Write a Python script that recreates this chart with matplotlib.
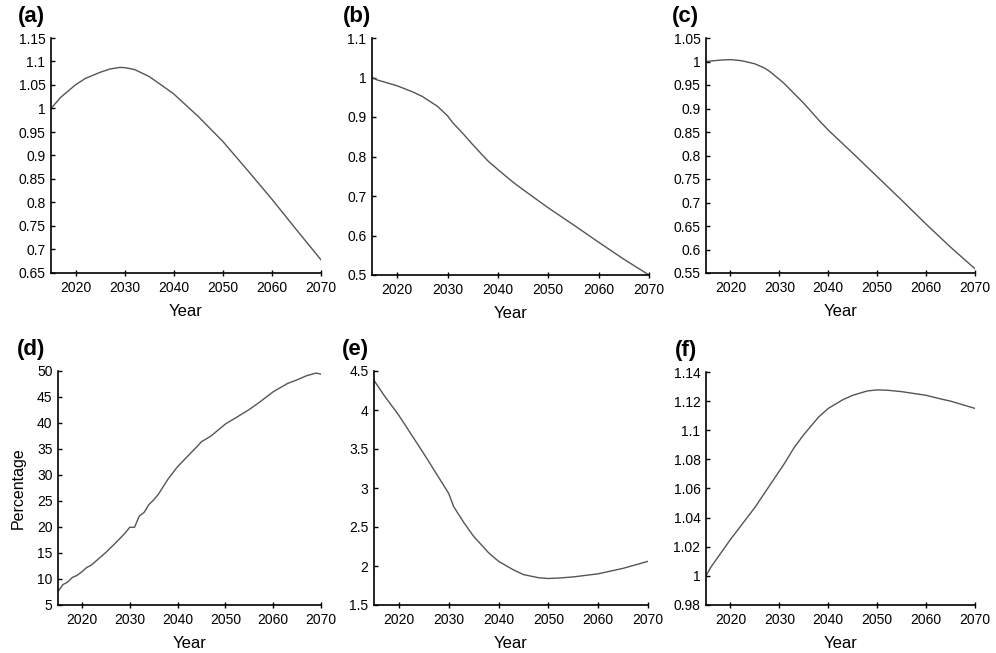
import numpy as np
import matplotlib.pyplot as plt

plt.rcParams['font.family'] = ['Liberation Sans', 'DejaVu Sans']

# panel (a)
years_a = [2015, 2017, 2020, 2022, 2025, 2027, 2029, 2030, 2032, 2035, 2038, 2040, 2045, 2050, 2055, 2060, 2065, 2070]
vals_a = [1.0, 1.024, 1.0505, 1.064, 1.077, 1.084, 1.0874, 1.087, 1.083, 1.068, 1.046, 1.031, 0.983, 0.930, 0.869, 0.807, 0.742, 0.678]

# panel (b)
years_b = [2015, 2016, 2020, 2023, 2025, 2028, 2030, 2031, 2033, 2035, 2038, 2040, 2043, 2045, 2050, 2055, 2060, 2065, 2070]
vals_b = [1.0, 0.994, 0.979, 0.964, 0.952, 0.927, 0.903, 0.886, 0.859, 0.830, 0.789, 0.767, 0.735, 0.716, 0.670, 0.627, 0.583, 0.540, 0.500]

# panel (c)
years_c = [2015, 2016, 2018, 2020, 2022, 2023, 2025, 2027, 2028, 2030, 2031, 2033, 2035, 2038, 2040, 2045, 2050, 2055, 2060, 2065, 2070]
vals_c = [1.0, 1.001, 1.003, 1.004, 1.002, 1.0, 0.995, 0.986, 0.979, 0.962, 0.953, 0.932, 0.911, 0.876, 0.854, 0.805, 0.755, 0.705, 0.654, 0.605, 0.559]

# panel (d)
years_d = [2015, 2016, 2017, 2018, 2019, 2020, 2021, 2022, 2025, 2027, 2029, 2030, 2031, 2032, 2033,
           2034, 2035, 2036, 2038, 2040, 2042, 2044, 2045, 2047, 2050, 2052, 2055, 2057, 2060, 2063,
           2065, 2067, 2069, 2070]
vals_d = [7.6, 8.9, 9.4, 10.3, 10.7, 11.4, 12.2, 12.7, 15.1, 16.9, 18.8, 19.95, 19.95, 22.1, 22.8,
          24.3, 25.2, 26.3, 29.2, 31.6, 33.5, 35.4, 36.4, 37.5, 39.8, 40.9, 42.6, 43.9, 46.0, 47.6,
          48.3, 49.1, 49.6, 49.4]

# panel (e)
years_e = [2015, 2017, 2020, 2025, 2030, 2031, 2033, 2035, 2038, 2040, 2043, 2045, 2048, 2050, 2052, 2055, 2060, 2065, 2070]
vals_e = [4.38, 4.19, 3.93, 3.44, 2.93, 2.76, 2.56, 2.38, 2.17, 2.06, 1.95, 1.89, 1.85, 1.84, 1.845, 1.86, 1.90, 1.97, 2.06]

# panel (f)
years_f = [2015, 2016, 2020, 2025, 2028, 2030, 2031, 2033, 2035, 2038, 2040, 2043, 2045, 2048, 2050,
           2052, 2055, 2058, 2060, 2063, 2065, 2068, 2070]
vals_f = [1.0, 1.006, 1.025, 1.047, 1.062, 1.072, 1.077, 1.088, 1.097, 1.109, 1.115, 1.121, 1.124, 1.127, 1.1277,
          1.1275, 1.1265, 1.125, 1.124, 1.1215, 1.120, 1.117, 1.115]

panels = [
    ("(a)", years_a, vals_a, (0.65, 1.15), 0.05, (51, 321, 38, 273), 33),
    ("(b)", years_b, vals_b, (0.5, 1.1), 0.1, (372, 649, 38, 275), 29),
    ("(c)", years_c, vals_c, (0.55, 1.05), 0.05, (706, 975, 38, 273), 34),
    ("(d)", years_d, vals_d, (5, 50), 5, (58, 321, 371, 605), 41),
    ("(e)", years_e, vals_e, (1.5, 4.5), 0.5, (374, 648, 371, 605), 32),
    ("(f)", years_f, vals_f, (0.98, 1.14), 0.02, (706, 975, 372, 605), 31),
]

W, H = 996, 653
fig = plt.figure(figsize=(W / 100, H / 100), dpi=100)

for label, xs, ys, ylim, step, (l, r, t, b), off in panels:
    ax = fig.add_axes([l / W, 1 - b / H, (r - l) / W, (b - t) / H])
    ax.plot(xs, ys, color='#555555', lw=1.0)
    ax.set_xlim(2015, 2070)
    ax.set_ylim(*ylim)
    ax.set_xticks(range(2020, 2071, 10))
    yt = np.round(np.arange(ylim[0], ylim[1] + step / 2, step), 4)
    ax.set_yticks(yt)
    ax.set_yticklabels([f"{v:g}" for v in yt])
    for s in ['top', 'right']:
        ax.spines[s].set_visible(False)
    for s in ['left', 'bottom']:
        ax.spines[s].set_linewidth(1.2)
    ax.tick_params(axis='x', direction='inout', length=5, width=1, labelsize=10, pad=3)
    ax.tick_params(axis='y', direction='in', length=3, width=1, labelsize=10, pad=4)
    ax.set_xlabel("Year", fontsize=12, labelpad=7)
    fig.text((l - off) / W, 1 - (t - 11) / H, label, fontsize=16, fontweight='bold',
             ha='left', va='bottom')
    if label == "(d)":
        ax.set_ylabel("Percentage", fontsize=11.5, labelpad=8)

fig.savefig("out.png", dpi=100)
